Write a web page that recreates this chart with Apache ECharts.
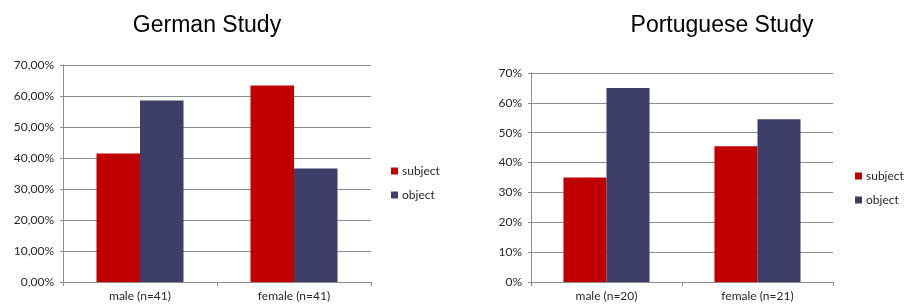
<!DOCTYPE html>
<html>
<head>
<meta charset="utf-8">
<script src="https://cdn.jsdelivr.net/npm/echarts@6/dist/echarts.min.js"></script>
<style>
  html, body { margin: 0; padding: 0; background: #fff; }
  #chart { width: 904px; height: 306px; }
</style>
</head>
<body>
<div id="chart"></div>
<script>
// German study
var germanCategories = ['male (n=41)', 'female (n=41)'];
var germanSubject = [41.46, 63.41];
var germanObject = [58.54, 36.59];

// Portuguese study
var portCategories = ['male (n=20)', 'female (n=21)'];
var portSubject = [35.0, 45.45];
var portObject = [65.0, 54.55];

var seriesNames = ['subject', 'object'];
var colors = ['#C00000', '#3D3F68'];

var myChart = echarts.init(document.getElementById('chart'));

var axisGrey = '#8c8c8c';
var labelFont = { fontFamily: 'Lato', fontSize: 12, color: '#262626' };

function xAxisFor(gridIndex, data) {
    return {
        type: 'category',
        gridIndex: gridIndex,
        data: data,
        axisLine: { show: true, lineStyle: { color: axisGrey } },
        axisTick: { show: true, length: 4, lineStyle: { color: axisGrey } },
        axisLabel: Object.assign({ margin: 8 }, labelFont)
    };
}

function yAxisFor(gridIndex, formatter) {
    return {
        type: 'value',
        gridIndex: gridIndex,
        min: 0,
        max: 70,
        interval: 10,
        axisLine: { show: true, lineStyle: { color: axisGrey } },
        axisTick: { show: true, length: 3, lineStyle: { color: axisGrey } },
        splitLine: { show: true, lineStyle: { color: axisGrey } },
        axisLabel: Object.assign({ margin: 9, formatter: formatter }, labelFont)
    };
}

function legendFor(left, top) {
    return {
        orient: 'vertical',
        left: left,
        top: top,
        padding: 0,
        itemWidth: 7,
        itemHeight: 7,
        itemGap: 10,
        icon: 'rect',
        data: seriesNames,
        textStyle: { fontFamily: 'Lato', fontSize: 12, color: '#262626', lineHeight: 14, padding: [0, 0, 0, -1] }
    };
}

var option = {
    animation: false,
    color: colors,
    title: [
        {
            text: 'German Study', left: 202, top: 9, textAlign: 'center',
            textStyle: { fontFamily: 'Liberation Sans', fontSize: 23, fontWeight: 'normal', color: '#000' }
        },
        {
            text: 'Portuguese Study', left: 717, top: 9, textAlign: 'center',
            textStyle: { fontFamily: 'Liberation Sans', fontSize: 23, fontWeight: 'normal', color: '#000' }
        }
    ],
    legend: [
        legendFor(391, 164),
        legendFor(855, 169)
    ],
    grid: [
        { left: 63, right: 533, top: 65, bottom: 24 },
        { left: 531, right: 71, top: 73, bottom: 24 }
    ],
    xAxis: [xAxisFor(0, germanCategories), xAxisFor(1, portCategories)],
    yAxis: [
        yAxisFor(0, function (v) { return v.toFixed(2).replace('.', ',') + '%'; }),
        yAxisFor(1, function (v) { return v + '%'; })
    ],
    series: [
        { name: 'subject', type: 'bar', xAxisIndex: 0, yAxisIndex: 0, data: germanSubject,
          barGap: '0%', barCategoryGap: '43.5%', itemStyle: { color: colors[0] } },
        { name: 'object', type: 'bar', xAxisIndex: 0, yAxisIndex: 0, data: germanObject,
          barGap: '0%', barCategoryGap: '43.5%', itemStyle: { color: colors[1] } },
        { name: 'subject', type: 'bar', xAxisIndex: 1, yAxisIndex: 1, data: portSubject,
          barGap: '0%', barCategoryGap: '43%', itemStyle: { color: colors[0] } },
        { name: 'object', type: 'bar', xAxisIndex: 1, yAxisIndex: 1, data: portObject,
          barGap: '0%', barCategoryGap: '43%', itemStyle: { color: colors[1] } }
    ]
};

myChart.setOption(option);
</script>
</body>
</html>
